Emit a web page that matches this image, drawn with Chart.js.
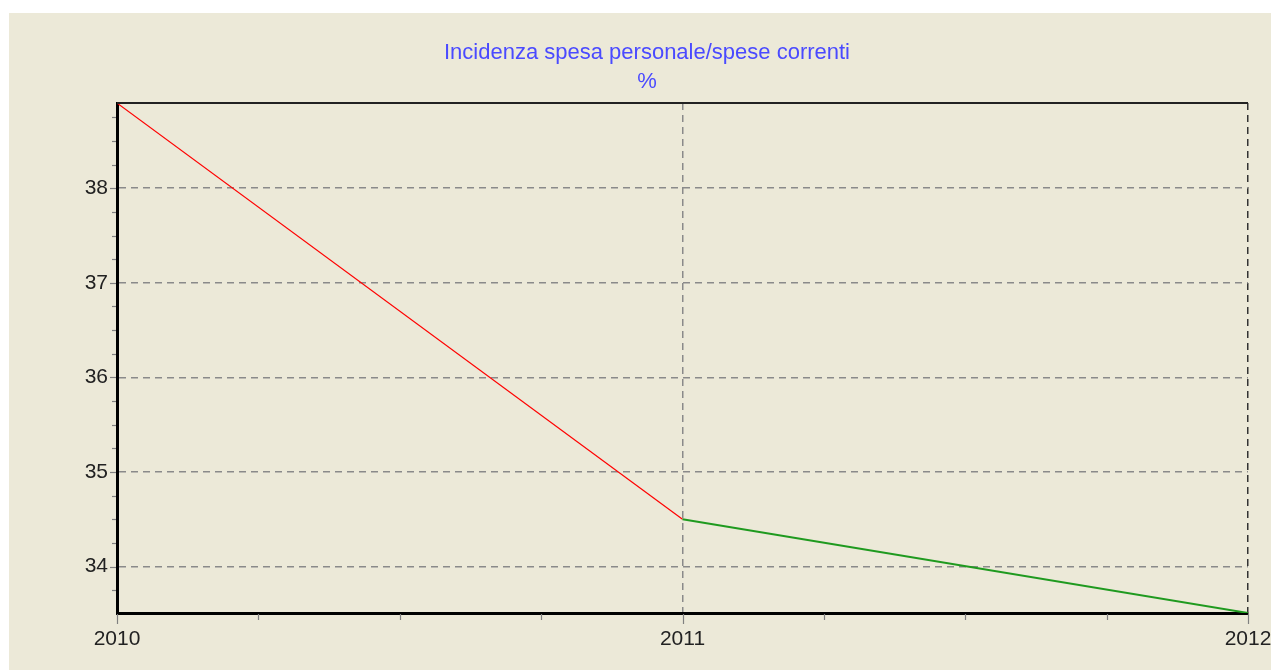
<!DOCTYPE html>
<html>
<head>
<meta charset="utf-8">
<script src="https://cdn.jsdelivr.net/npm/chart.js@4/dist/chart.umd.min.js"></script>
<style>
  html, body { margin: 0; padding: 0; background: #fff; }
  canvas { display: block; }
</style>
</head>
<body>
<canvas id="grafico" width="1271" height="670"></canvas>
<script>
// dati
const anni = [2010, 2011, 2012];
const incidenza = [38.9, 34.5, 33.51];
const etichetteY = [34, 35, 36, 37, 38];
const etichetteX = [2010, 2011, 2012];
const titolo = ['Incidenza spesa personale/spese correnti', '%'];

const isMajor = (v, list) => list.some(t => Math.abs(t - v) < 1e-6);

// sfondo beige con bordo bianco a sinistra/in alto
const sfondo = {
    id: 'sfondo',
    beforeDraw(chart) {
        const ctx = chart.ctx;
        ctx.save();
        ctx.fillStyle = '#ffffff';
        ctx.fillRect(0, 0, chart.width, chart.height);
        ctx.fillStyle = '#ECE9D8';
        ctx.fillRect(9, 13, chart.width - 9, chart.height - 13);
        ctx.restore();
    }
};

// tacche principali e secondarie + bordo superiore
const tacche = {
    id: 'tacche',
    afterDraw(chart) {
        const ctx = chart.ctx;
        const a = chart.chartArea;
        const sx = chart.scales.x, sy = chart.scales.y;
        ctx.save();
        ctx.strokeStyle = '#808080';
        ctx.lineWidth = 1.2;
        sy.ticks.forEach(t => {
            const y = Math.round(sy.getPixelForValue(t.value)) + 0.5;
            const len = isMajor(t.value, etichetteY) ? 6 : 4;
            ctx.beginPath();
            ctx.moveTo(a.left - 1 - len, y);
            ctx.lineTo(a.left - 1, y);
            ctx.stroke();
        });
        sx.ticks.forEach(t => {
            const x = Math.round(sx.getPixelForValue(t.value)) + 0.5;
            const len = isMajor(t.value, etichetteX) ? 10 : 6;
            ctx.beginPath();
            ctx.moveTo(x, a.bottom + 1);
            ctx.lineTo(x, a.bottom + 1 + len);
            ctx.stroke();
        });
        // bordo superiore
        ctx.strokeStyle = '#222';
        ctx.lineWidth = 2;
        ctx.beginPath();
        ctx.moveTo(a.left, a.top);
        ctx.lineTo(a.right, a.top);
        ctx.stroke();
        ctx.restore();
    }
};

new Chart(document.getElementById('grafico').getContext('2d'), {
    type: 'line',
    data: {
        datasets: [{
            data: anni.map((a, i) => ({ x: a, y: incidenza[i] })),
            borderWidth: 1,
            pointRadius: 0,
            tension: 0,
            fill: false,
            segment: {
                borderColor: c => c.p0DataIndex === 0 ? '#ff0000' : '#1f9a1f',
                borderWidth: c => c.p0DataIndex === 0 ? 1.2 : 2
            }
        }]
    },
    options: {
        responsive: false,
        animation: false,
        layout: { padding: { top: 38, right: 23, bottom: 0, left: 46 } },
        plugins: {
            legend: { display: false },
            tooltip: { enabled: false },
            title: {
                display: true,
                text: titolo,
                color: '#4a4aff',
                font: { family: 'Liberation Sans', size: 22, weight: 'normal', lineHeight: 1.32 },
                padding: { top: 0, bottom: 7 }
            }
        },
        scales: {
            x: {
                type: 'linear',
                min: 2010,
                max: 2012,
                afterBuildTicks: s => {
                    const t = [];
                    for (let v = 2010; v <= 2012 + 1e-6; v += 0.25) t.push({ value: v });
                    s.ticks = t;
                },
                afterFit: s => { s.height = 57; s.paddingLeft = 0; s.paddingRight = 0; },
                ticks: {
                    autoSkip: false,
                    maxRotation: 0,
                    padding: 14,
                    color: '#222',
                    font: { family: 'Liberation Sans', size: 21 },
                    callback: v => isMajor(v, etichetteX) ? String(Math.round(v)) : ''
                },
                grid: {
                    drawTicks: false,
                    lineWidth: 1.5,
                    color: c => {
                        if (!c.tick || !isMajor(c.tick.value, etichetteX)) return 'rgba(0,0,0,0)';
                        return c.tick.value === 2012 ? '#333' : '#8a8a8a';
                    }
                },
                border: { display: true, color: '#000', width: 3, dash: [7, 5] }
            },
            y: {
                min: 33.51,
                max: 38.9,
                afterBuildTicks: s => {
                    const t = [];
                    for (let v = 33.75; v <= 38.9; v += 0.25) t.push({ value: v });
                    s.ticks = t;
                },
                afterFit: s => { s.width = 71; s.paddingTop = 0; s.paddingBottom = 0; },
                ticks: {
                    autoSkip: false,
                    padding: 9,
                    color: '#222',
                    font: { family: 'Liberation Sans', size: 21 },
                    callback: v => isMajor(v, etichetteY) ? String(Math.round(v)) : ''
                },
                grid: {
                    drawTicks: false,
                    lineWidth: 1.5,
                    color: c => (c.tick && isMajor(c.tick.value, etichetteY)) ? '#8a8a8a' : 'rgba(0,0,0,0)'
                },
                border: { display: true, color: '#000', width: 3, dash: [7, 5] }
            }
        }
    },
    plugins: [sfondo, tacche]
});
</script>
</body>
</html>
